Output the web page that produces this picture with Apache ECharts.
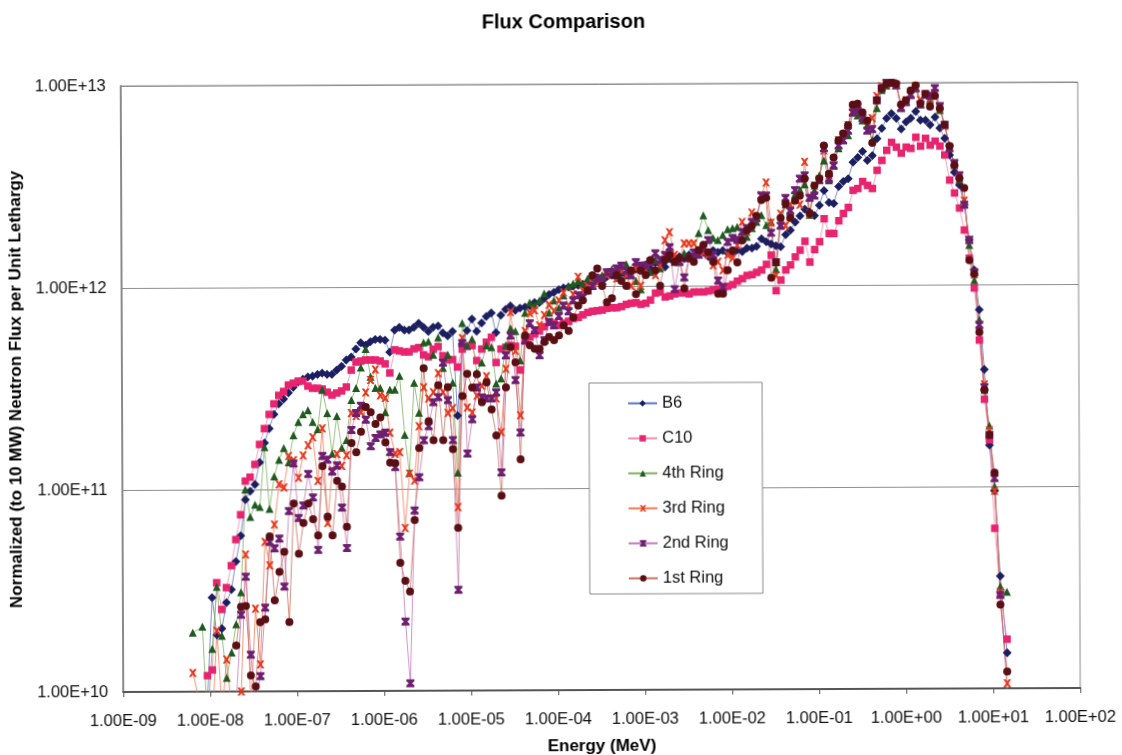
<!DOCTYPE html>
<html><head><meta charset="utf-8">
<style>html,body{margin:0;padding:0;background:#fff;overflow:hidden}#c{width:1122px;height:755px;transform:rotate(-0.24deg);transform-origin:600px 390px}</style>
<script src="https://cdn.jsdelivr.net/npm/echarts@6/dist/echarts.min.js"></script>
</head><body><div id="c"></div>
<script>
const energyMeV = [
6.33e-9,7.20e-9,8.18e-9,
9.3e-9,1.06e-8,1.20e-8,1.37e-8,1.55e-8,1.77e-8,2.00e-8,2.28e-8,2.59e-8,2.94e-8,3.34e-8,3.79e-8,4.32e-8,4.90e-8,5.57e-8,6.33e-8,7.20e-8,8.18e-8,
9.3e-8,1.06e-7,1.20e-7,1.37e-7,1.55e-7,1.77e-7,2.00e-7,2.28e-7,2.59e-7,2.94e-7,3.34e-7,3.79e-7,4.32e-7,4.90e-7,5.57e-7,6.33e-7,7.20e-7,8.18e-7,
9.3e-7,1.06e-6,1.20e-6,1.37e-6,1.55e-6,1.77e-6,2.00e-6,2.28e-6,2.59e-6,2.94e-6,3.34e-6,3.79e-6,4.32e-6,4.90e-6,5.57e-6,6.33e-6,7.20e-6,8.18e-6,
9.3e-6,1.06e-5,1.20e-5,1.37e-5,1.55e-5,1.77e-5,2.00e-5,2.28e-5,2.59e-5,2.94e-5,3.34e-5,3.79e-5,4.32e-5,4.90e-5,5.57e-5,6.33e-5,7.20e-5,8.18e-5,
9.3e-5,1.06e-4,1.20e-4,1.37e-4,1.55e-4,1.77e-4,2.00e-4,2.28e-4,2.59e-4,2.94e-4,3.34e-4,3.79e-4,4.32e-4,4.90e-4,5.57e-4,6.33e-4,7.20e-4,8.18e-4,
9.3e-4,1.06e-3,1.20e-3,1.37e-3,1.55e-3,1.77e-3,2.00e-3,2.28e-3,2.59e-3,2.94e-3,3.34e-3,3.79e-3,4.32e-3,4.90e-3,5.57e-3,6.33e-3,7.20e-3,8.18e-3,
9.3e-3,1.06e-2,1.20e-2,1.37e-2,1.55e-2,1.77e-2,2.00e-2,2.28e-2,2.59e-2,2.94e-2,3.34e-2,3.79e-2,4.32e-2,4.90e-2,5.57e-2,6.33e-2,7.20e-2,8.18e-2,
9.3e-2,1.06e-1,1.20e-1,1.37e-1,1.55e-1,1.77e-1,2.00e-1,2.28e-1,2.59e-1,2.94e-1,3.34e-1,3.79e-1,4.32e-1,4.90e-1,5.57e-1,6.33e-1,7.20e-1,8.18e-1,
9.3e-1,1.06,1.20,1.37,1.55,1.77,2.00,2.28,2.59,2.94,3.34,3.79,4.32,4.90,5.57,6.33,7.20,8.18,
9.3,10.6,12.2,14.5];

// flux values in units of 1e10 n per unit lethargy; one row per energy decade
const FLUX_UNIT = 1e10;
const b6 = [null,null,null,
.9,2.92,1.91,2.05,2.76,3.2,4.4,5.9,8.9,9.8,10.6,13.6,17,20,23.5,26.5,28,30,
32,34,35,36,36.3,37,37.5,37,37,38.8,40.5,43.5,45,49.3,53,51.5,53.5,55,
55,54.5,47.5,61,63,61,61,63,66,63,60,63,64,59,57,60,23,52,
60.5,69,60,66,71,74,59,72,77,80,76,78,79,80,83,83,87,91,
93,96,98,99,100,101,102,105,107,110,106,111,113,110,116,113,119,121,
123,127,121,130,128,124,136,133,139,136,142,139,147,146,139,149,146,149,
145,143,150,147,153,153,156,170,164,160,157,155,178,187,205,220,238,230,
221,248,294,256,253,307,325,336,405,428,458,413,436,530,595,668,705,668,
590,640,668,720,653,653,618,675,595,530,438,360,311,248,166,118,75,38,
16,9.5,3.6,1.5];
const c10 = [null,null,null,
1.2,1.28,3.46,2.55,3.27,4.2,5.65,7.5,11,11.5,13.3,16.7,20,23.5,26.5,29.2,30.5,32.8,
33.5,34.3,34.3,32.4,31.6,31.6,31.3,30.2,29.2,29.9,30.6,32,38.8,42.5,43,43.5,43.5,43.5,
43,41.6,37.5,48.8,48.2,47.6,47.6,49.3,50,46,45,49,50.5,45.5,43.5,43.5,40,49,
50.5,51,43,49,53,56,42,49,50,51,50.5,38.5,53.5,56,58,60,63,66.5,
65.5,64,65.5,67,69,70,72,74,75,75.5,76,77.5,78,78,79,81,82,82.5,
81,82,85,92,93,88,89,91,92,92,91,93,93,93,94,95,96,97,
99,101,105,108,112,113,116,119,127,141,94,106,119,126,138,149,165,130,
150,164,213,180,180,208,226,242,294,300,325,311,300,369,413,463,507,480,
448,480,473,537,485,530,490,513,485,438,329,284,239,186,135,96,53,27,
17,6.2,2.9,1.75];
const ring4 = [1.96,null,2.1,
.7,1.63,3.3,1.89,1.17,1.56,2.15,3.1,10,7.3,8.4,8.2,16.2,8,11.6,14,16,13.6,
18.5,21.5,23.5,24.6,21.5,19.8,31,23.8,15,23,16,17.5,27.6,31.6,40,49.3,36,31.6,
31.6,24,31,31,36.3,18.5,12,33.5,23.8,53,53.5,46,56,39.6,46,33.5,12,66,
51,55,37.5,42,51,50,33,35,51,62,60,43,74,83,81,85,92,74,
85,78,90,100,103,106,103,109,111,109,113,117,121,117,119,128,113,106,
96,119,117,134,122,138,146,131,131,145,138,142,182,223,188,172,168,178,
190,192,195,172,174,192,206,223,199,206,120,199,251,231,281,297,315,223,
294,349,413,330,390,475,520,552,714,690,653,618,520,750,920,970,1000,1000,
750,820,870,940,780,870,820,890,730,618,490,390,330,260,157,105,67,30,
20,10,3.2,3.0];
const ring3 = [1.24,null,null,
.6,.7,2.0,.8,1.44,.8,.9,1.0,4.76,.8,2.57,1.36,5.5,4.2,6.7,10.6,10.2,14.6,
13.9,11.4,14.7,16.5,18.1,11,20,6.8,12.4,14.9,13,14.7,23.8,23,24,30,34.6,39,
29,28.2,19,14.9,15.2,6.4,11.9,11,20.4,31.8,28,30,37.3,30,23.7,25,8.1,55.6,
25.2,23.8,28.8,32.3,36,27.9,27.9,19,39,74.5,48,23,60,73.7,76,64,72,81,
75.5,85,93,80,91,111,95,100,103,104,106,113,117,109,119,113,100,122,
100,119,131,113,126,168,184,142,134,162,162,162,150,146,142,126,131,119,
142,137,158,206,184,229,215,280,323,204,112,226,197,250,295,250,408,226,
311,336,463,348,390,520,552,618,730,750,690,650,670,860,960,990,990,980,
765,820,890,960,820,880,835,890,745,610,478,390,336,260,166,112,63,32,
19,9.5,3.0,1.06];
const ring2 = [null,null,null,
null,null,null,null,null,null,.9,2.4,3.7,1.52,.9,1.19,2.6,5.5,5.1,5.7,3.3,7.8,
13.4,7.2,8.3,11.9,9.1,5,14.6,14,12.2,13.1,8.1,5.1,19.6,23.8,25.8,22,16.3,17.9,
18.6,19,15.2,12.8,5.8,2.2,1.09,7.8,11.4,17.4,20.4,26.8,28.4,42,27.4,17.4,3.15,52.5,
14.9,22,31.6,28.2,27.9,27.9,29.9,12,45.5,57,34.3,18.9,54,65.6,60.5,45.5,54,66.5,
64,71,80,75,85,90,88,95,100,109,106,117,117,122,126,119,113,131,
126,126,131,145,134,142,155,96,131,110,137,146,142,153,168,142,106,98,
164,172,168,184,192,206,215,278,278,182,130,197,270,234,295,337,349,270,
277,330,475,336,390,490,520,580,714,730,670,580,590,820,940,1000,1000,970,
750,800,870,940,780,875,860,940,765,618,473,400,347,248,166,115,63,31,
18,11,2.9,.95];
const ring1 = [null,null,null,
null,null,null,null,null,null,1.69,2.63,2.65,1.2,1.06,2.2,2.27,5.85,2.82,3.9,4.9,2.2,
8.5,4.8,6.8,8.5,7.1,5.9,13,7.3,5.9,11,10.3,6.5,16.9,15.2,19.2,25.5,24,21,
22.6,17,13.5,13.4,4.3,3.5,3.1,7,15.9,39.5,21.6,17.4,32.5,17.4,31.8,15.7,6.4,28.7,
37,31.6,36.8,26.7,33.5,24.6,18.3,9.2,31.6,50,42,13.9,57,51,49,49,53,56,
54,57,64,60,70,80,85,95,113,122,100,83,87,113,106,100,119,91,
119,113,134,119,100,134,142,131,137,97,137,131,150,159,146,131,91,91,
119,149,130,167,187,197,221,264,271,109,130,215,253,215,262,277,337,226,
311,336,490,355,428,520,562,618,780,790,714,650,505,820,940,990,1000,990,
780,820,915,970,790,880,760,860,745,618,485,390,336,300,132,113,58,30,
18,11.7,2.6,1.21];

const xTickRange = [1e-9, 1e2];
const yTickRange = [1e10, 1e13];

const X_PATH = 'path://M0 0L3 0L5 2.6L7 0L10 0L6.6 5L10 10L7 10L5 7.4L3 10L0 10L3.4 5Z';
const HOUR_PATH = 'path://M0 0H10V2.5L7 5L10 7.5V10H0V7.5L3 5L0 2.5Z';
const FONT = '"Liberation Sans", Arial, sans-serif';

function sci(v){
  const [m,e] = Number(v).toExponential(2).split('e');
  const n = parseInt(e,10), a = Math.abs(n);
  return m+'E'+(n<0?'-':'+')+(a<10?'0':'')+a;
}
function mk(name, vals, symbol, size, col, lineCol){
  const data = [];
  vals.forEach((v,i)=>{ if(v!==null) data.push([energyMeV[i], v*FLUX_UNIT]); });
  return {name, type:'line', data, symbol, symbolSize:size, clip:true, animation:false,
    itemStyle:{color:col}, lineStyle:{color:lineCol, width:0.8}};
}
const chart = echarts.init(document.getElementById('c'));
chart.setOption({
  animation:false, backgroundColor:'#fff',
  title:{text:'Flux Comparison', left:560, top:7, textAlign:'center',
    textStyle:{fontFamily:FONT,fontSize:20,fontWeight:'bold',color:'#000'}},
  grid:{left:122,right:43,top:84,bottom:65,outerBoundsMode:'none',show:true,borderColor:'#8a8a8a',borderWidth:1,backgroundColor:'#fff'},
  legend:{orient:'vertical',left:589,top:383,padding:[12,34,7,38],itemWidth:29,itemHeight:8,itemGap:18,
    backgroundColor:'#fff',borderColor:'#8a8a8a',borderWidth:1,align:'left',
    textStyle:{fontFamily:FONT,fontSize:16.5,lineHeight:8,color:'#111'},
    data:['B6','C10','4th Ring','3rd Ring','2nd Ring','1st Ring']},
  xAxis:{type:'log',logBase:10,min:xTickRange[0],max:xTickRange[1],interval:1,
    name:'Energy (MeV)',nameLocation:'middle',nameGap:48,
    nameTextStyle:{fontFamily:FONT,fontSize:17,fontWeight:'bold',color:'#000'},
    axisLine:{show:true,onZero:false,lineStyle:{color:'#555',width:2}},
    axisTick:{show:true,length:5,lineStyle:{color:'#555'}},
    minorTick:{show:false},splitLine:{show:false},
    axisLabel:{formatter:sci,fontFamily:FONT,fontSize:16.5,color:'#111',margin:21,showMinLabel:true,showMaxLabel:true,hideOverlap:false}},
  yAxis:{type:'log',logBase:10,min:yTickRange[0],max:yTickRange[1],interval:1,
    name:'Normalized (to 10 MW) Neutron Flux per Unit Lethargy',nameLocation:'middle',nameGap:89,
    nameTextStyle:{fontFamily:FONT,fontSize:17,fontWeight:'bold',color:'#000'},
    axisLine:{show:true,lineStyle:{color:'#8a8a8a',width:2}},
    axisTick:{show:false},minorTick:{show:false},
    splitLine:{show:true,lineStyle:{color:'#8e8e8e',width:1}},
    axisLabel:{formatter:sci,fontFamily:FONT,fontSize:16.5,color:'#111',margin:15,showMinLabel:true,showMaxLabel:true}},
  series:[
    mk('B6',b6,'diamond',9,'#1c1f5f','#5a74c8'),
    mk('C10',c10,'rect',7.5,'#e8246e','#f28ab0'),
    mk('4th Ring',ring4,'triangle',8,'#1f5a20','#7cb060'),
    mk('3rd Ring',ring3,X_PATH,8,'#e63a20','#f07a55'),
    mk('2nd Ring',ring2,HOUR_PATH,8,'#6e2070','#c678b8'),
    mk('1st Ring',ring1,'circle',8,'#5a0f14','#c97060')
  ]
});
</script></body></html>
